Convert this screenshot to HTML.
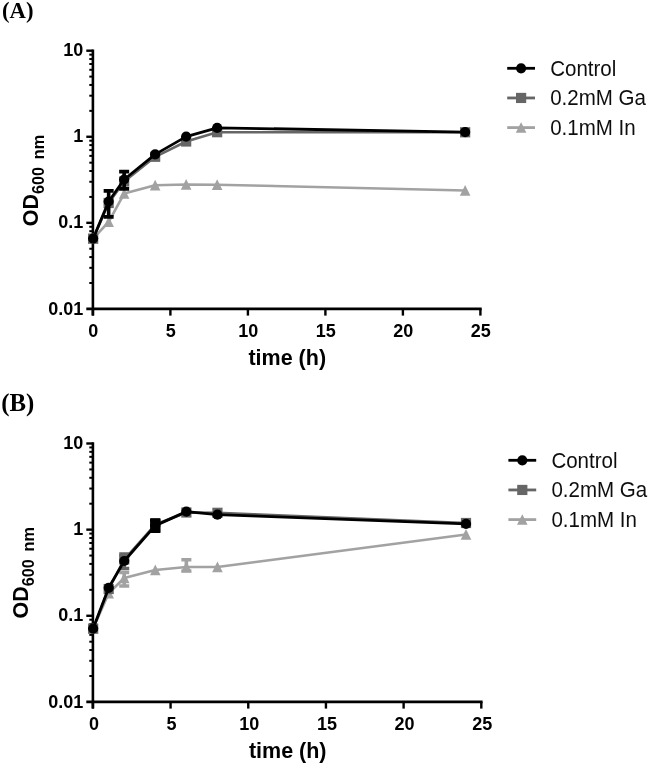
<!DOCTYPE html>
<html><head><meta charset="utf-8"><title>Growth curves</title>
<style>
html,body{margin:0;padding:0;background:#fff;}
body{width:649px;height:765px;overflow:hidden;}
svg{display:block;}
text{font-family:"Liberation Sans",sans-serif;fill:#000;}
.tk{font-weight:bold;font-size:18px;}
.ttl{font-weight:bold;font-size:21.5px;}
.sub{font-weight:bold;font-size:16.2px;}
.lg{font-size:21.6px;fill:#111;}
.pl{font-family:"Liberation Serif",serif;font-weight:bold;font-size:23.2px;}
</style></head><body>
<svg width="649" height="765" viewBox="0 0 649 765">
<defs><filter id="soft" x="0" y="0" width="100%" height="100%" filterUnits="userSpaceOnUse" primitiveUnits="userSpaceOnUse"><feGaussianBlur stdDeviation="0.45"/></filter></defs>
<rect width="649" height="765" fill="#fff"/>
<g filter="url(#soft)">
<line x1="92.9" y1="49.400000000000006" x2="92.9" y2="315.59999999999997" stroke="#000" stroke-width="2.6"/>
<line x1="86.30000000000001" y1="308.9" x2="481.7" y2="308.9" stroke="#000" stroke-width="2.6"/>
<line x1="86.30000000000001" y1="50.7" x2="92.9" y2="50.7" stroke="#000" stroke-width="2.4"/>
<line x1="89.30000000000001" y1="110.86" x2="92.9" y2="110.86" stroke="#000" stroke-width="2.0"/>
<line x1="89.30000000000001" y1="95.70" x2="92.9" y2="95.70" stroke="#000" stroke-width="2.0"/>
<line x1="89.30000000000001" y1="84.95" x2="92.9" y2="84.95" stroke="#000" stroke-width="2.0"/>
<line x1="89.30000000000001" y1="76.61" x2="92.9" y2="76.61" stroke="#000" stroke-width="2.0"/>
<line x1="89.30000000000001" y1="69.79" x2="92.9" y2="69.79" stroke="#000" stroke-width="2.0"/>
<line x1="89.30000000000001" y1="64.03" x2="92.9" y2="64.03" stroke="#000" stroke-width="2.0"/>
<line x1="89.30000000000001" y1="59.04" x2="92.9" y2="59.04" stroke="#000" stroke-width="2.0"/>
<line x1="89.30000000000001" y1="54.64" x2="92.9" y2="54.64" stroke="#000" stroke-width="2.0"/>
<line x1="86.30000000000001" y1="136.76666666666665" x2="92.9" y2="136.76666666666665" stroke="#000" stroke-width="2.4"/>
<line x1="89.30000000000001" y1="196.92" x2="92.9" y2="196.92" stroke="#000" stroke-width="2.0"/>
<line x1="89.30000000000001" y1="181.77" x2="92.9" y2="181.77" stroke="#000" stroke-width="2.0"/>
<line x1="89.30000000000001" y1="171.02" x2="92.9" y2="171.02" stroke="#000" stroke-width="2.0"/>
<line x1="89.30000000000001" y1="162.68" x2="92.9" y2="162.68" stroke="#000" stroke-width="2.0"/>
<line x1="89.30000000000001" y1="155.86" x2="92.9" y2="155.86" stroke="#000" stroke-width="2.0"/>
<line x1="89.30000000000001" y1="150.10" x2="92.9" y2="150.10" stroke="#000" stroke-width="2.0"/>
<line x1="89.30000000000001" y1="145.11" x2="92.9" y2="145.11" stroke="#000" stroke-width="2.0"/>
<line x1="89.30000000000001" y1="140.70" x2="92.9" y2="140.70" stroke="#000" stroke-width="2.0"/>
<line x1="86.30000000000001" y1="222.83333333333331" x2="92.9" y2="222.83333333333331" stroke="#000" stroke-width="2.4"/>
<line x1="89.30000000000001" y1="282.99" x2="92.9" y2="282.99" stroke="#000" stroke-width="2.0"/>
<line x1="89.30000000000001" y1="267.84" x2="92.9" y2="267.84" stroke="#000" stroke-width="2.0"/>
<line x1="89.30000000000001" y1="257.08" x2="92.9" y2="257.08" stroke="#000" stroke-width="2.0"/>
<line x1="89.30000000000001" y1="248.74" x2="92.9" y2="248.74" stroke="#000" stroke-width="2.0"/>
<line x1="89.30000000000001" y1="241.93" x2="92.9" y2="241.93" stroke="#000" stroke-width="2.0"/>
<line x1="89.30000000000001" y1="236.17" x2="92.9" y2="236.17" stroke="#000" stroke-width="2.0"/>
<line x1="89.30000000000001" y1="231.17" x2="92.9" y2="231.17" stroke="#000" stroke-width="2.0"/>
<line x1="89.30000000000001" y1="226.77" x2="92.9" y2="226.77" stroke="#000" stroke-width="2.0"/>
<text x="83.30000000000001" y="56.30" text-anchor="end" class="tk">10</text>
<text x="83.30000000000001" y="142.37" text-anchor="end" class="tk">1</text>
<text x="83.30000000000001" y="228.43" text-anchor="end" class="tk">0.1</text>
<text x="83.30000000000001" y="314.50" text-anchor="end" class="tk">0.01</text>
<line x1="92.90" y1="308.9" x2="92.90" y2="315.59999999999997" stroke="#000" stroke-width="2.4"/>
<text x="93.30" y="337.40" text-anchor="middle" class="tk">0</text>
<line x1="170.40" y1="308.9" x2="170.40" y2="315.59999999999997" stroke="#000" stroke-width="2.4"/>
<text x="170.80" y="337.40" text-anchor="middle" class="tk">5</text>
<line x1="247.90" y1="308.9" x2="247.90" y2="315.59999999999997" stroke="#000" stroke-width="2.4"/>
<text x="248.30" y="337.40" text-anchor="middle" class="tk">10</text>
<line x1="325.40" y1="308.9" x2="325.40" y2="315.59999999999997" stroke="#000" stroke-width="2.4"/>
<text x="325.80" y="337.40" text-anchor="middle" class="tk">15</text>
<line x1="402.90" y1="308.9" x2="402.90" y2="315.59999999999997" stroke="#000" stroke-width="2.4"/>
<text x="403.30" y="337.40" text-anchor="middle" class="tk">20</text>
<line x1="480.40" y1="308.9" x2="480.40" y2="315.59999999999997" stroke="#000" stroke-width="2.4"/>
<text x="480.80" y="337.40" text-anchor="middle" class="tk">25</text>
<text x="287.25" y="364.90" text-anchor="middle" class="ttl">time (h)</text>
<g transform="translate(38.1 226.20) rotate(-90)"><text class="ttl" x="0" y="0">OD<tspan class="sub" dy="6.1">600</tspan><tspan class="sub" dx="3.2"> nm</tspan></text></g>
<polyline points="93.15,238.60 108.65,221.80 124.15,193.60 155.15,185.20 186.15,184.50 217.15,184.70 465.15,190.50" fill="none" stroke="#a2a2a2" stroke-width="2.6" stroke-linejoin="round"/>
<path d="M93.15 233.20L98.45 243.80H87.85Z" fill="#a2a2a2"/>
<path d="M108.65 216.40L113.95 227.00H103.35Z" fill="#a2a2a2"/>
<path d="M124.15 188.20L129.45 198.80H118.85Z" fill="#a2a2a2"/>
<path d="M155.15 179.80L160.45 190.40H149.85Z" fill="#a2a2a2"/>
<path d="M186.15 179.10L191.45 189.70H180.85Z" fill="#a2a2a2"/>
<path d="M217.15 179.30L222.45 189.90H211.85Z" fill="#a2a2a2"/>
<path d="M465.15 185.10L470.45 195.70H459.85Z" fill="#a2a2a2"/>
<polyline points="93.15,238.60 108.65,203.00 124.15,181.50 155.15,156.80 186.15,141.50 217.15,132.20 465.15,132.30" fill="none" stroke="#666" stroke-width="2.6" stroke-linejoin="round"/>
<rect x="88.05" y="233.50" width="10.2" height="10.2" fill="#666"/>
<rect x="103.55" y="197.90" width="10.2" height="10.2" fill="#666"/>
<rect x="119.05" y="176.40" width="10.2" height="10.2" fill="#666"/>
<rect x="150.05" y="151.70" width="10.2" height="10.2" fill="#666"/>
<rect x="181.05" y="136.40" width="10.2" height="10.2" fill="#666"/>
<rect x="212.05" y="127.10" width="10.2" height="10.2" fill="#666"/>
<rect x="460.05" y="127.20" width="10.2" height="10.2" fill="#666"/>
<polyline points="93.15,238.60 108.65,201.50 124.15,179.50 155.15,154.40 186.15,136.60 217.15,127.80 465.15,132.10" fill="none" stroke="#000" stroke-width="2.8" stroke-linejoin="round"/>
<path d="M108.65 190.90V216.90M103.65 190.90h10M103.65 216.90h10" stroke="#000" stroke-width="3.6" fill="none"/>
<path d="M124.15 171.60V188.90M119.15 171.60h10M119.15 188.90h10" stroke="#000" stroke-width="3.6" fill="none"/>
<circle cx="93.15" cy="238.60" r="5.1" fill="#000"/>
<circle cx="108.65" cy="201.50" r="5.1" fill="#000"/>
<circle cx="124.15" cy="179.50" r="5.1" fill="#000"/>
<circle cx="155.15" cy="154.40" r="5.1" fill="#000"/>
<circle cx="186.15" cy="136.60" r="5.1" fill="#000"/>
<circle cx="217.15" cy="127.80" r="5.1" fill="#000"/>
<circle cx="465.15" cy="132.10" r="5.1" fill="#000"/>
<line x1="507.20" y1="68.30" x2="535.00" y2="68.30" stroke="#000" stroke-width="2.8"/>
<circle cx="521.10" cy="68.30" r="5.1" fill="#000"/>
<text transform="translate(550.20 75.60) scale(0.95 1.04)" class="lg">Control</text>
<line x1="507.20" y1="97.95" x2="535.00" y2="97.95" stroke="#666" stroke-width="2.8"/>
<rect x="516.00" y="92.85" width="10.2" height="10.2" fill="#666"/>
<text transform="translate(550.20 105.25) scale(0.95 1.04)" class="lg">0.2mM Ga</text>
<line x1="507.20" y1="127.60" x2="535.00" y2="127.60" stroke="#a2a2a2" stroke-width="2.8"/>
<path d="M521.10 122.20L526.40 132.80H515.80Z" fill="#a2a2a2"/>
<text transform="translate(550.20 134.90) scale(0.95 1.04)" class="lg">0.1mM In</text>
<text transform="translate(2.0 18.3) scale(0.98 1.0)" class="pl">(A)</text>
<line x1="92.9" y1="442.2" x2="92.9" y2="708.6" stroke="#000" stroke-width="2.6"/>
<line x1="86.30000000000001" y1="701.9" x2="482.59999999999997" y2="701.9" stroke="#000" stroke-width="2.6"/>
<line x1="86.30000000000001" y1="443.5" x2="92.9" y2="443.5" stroke="#000" stroke-width="2.4"/>
<line x1="89.30000000000001" y1="503.70" x2="92.9" y2="503.70" stroke="#000" stroke-width="2.0"/>
<line x1="89.30000000000001" y1="488.54" x2="92.9" y2="488.54" stroke="#000" stroke-width="2.0"/>
<line x1="89.30000000000001" y1="477.78" x2="92.9" y2="477.78" stroke="#000" stroke-width="2.0"/>
<line x1="89.30000000000001" y1="469.43" x2="92.9" y2="469.43" stroke="#000" stroke-width="2.0"/>
<line x1="89.30000000000001" y1="462.61" x2="92.9" y2="462.61" stroke="#000" stroke-width="2.0"/>
<line x1="89.30000000000001" y1="456.84" x2="92.9" y2="456.84" stroke="#000" stroke-width="2.0"/>
<line x1="89.30000000000001" y1="451.85" x2="92.9" y2="451.85" stroke="#000" stroke-width="2.0"/>
<line x1="89.30000000000001" y1="447.44" x2="92.9" y2="447.44" stroke="#000" stroke-width="2.0"/>
<line x1="86.30000000000001" y1="529.6333333333333" x2="92.9" y2="529.6333333333333" stroke="#000" stroke-width="2.4"/>
<line x1="89.30000000000001" y1="589.84" x2="92.9" y2="589.84" stroke="#000" stroke-width="2.0"/>
<line x1="89.30000000000001" y1="574.67" x2="92.9" y2="574.67" stroke="#000" stroke-width="2.0"/>
<line x1="89.30000000000001" y1="563.91" x2="92.9" y2="563.91" stroke="#000" stroke-width="2.0"/>
<line x1="89.30000000000001" y1="555.56" x2="92.9" y2="555.56" stroke="#000" stroke-width="2.0"/>
<line x1="89.30000000000001" y1="548.74" x2="92.9" y2="548.74" stroke="#000" stroke-width="2.0"/>
<line x1="89.30000000000001" y1="542.98" x2="92.9" y2="542.98" stroke="#000" stroke-width="2.0"/>
<line x1="89.30000000000001" y1="537.98" x2="92.9" y2="537.98" stroke="#000" stroke-width="2.0"/>
<line x1="89.30000000000001" y1="533.57" x2="92.9" y2="533.57" stroke="#000" stroke-width="2.0"/>
<line x1="86.30000000000001" y1="615.7666666666667" x2="92.9" y2="615.7666666666667" stroke="#000" stroke-width="2.4"/>
<line x1="89.30000000000001" y1="675.97" x2="92.9" y2="675.97" stroke="#000" stroke-width="2.0"/>
<line x1="89.30000000000001" y1="660.80" x2="92.9" y2="660.80" stroke="#000" stroke-width="2.0"/>
<line x1="89.30000000000001" y1="650.04" x2="92.9" y2="650.04" stroke="#000" stroke-width="2.0"/>
<line x1="89.30000000000001" y1="641.70" x2="92.9" y2="641.70" stroke="#000" stroke-width="2.0"/>
<line x1="89.30000000000001" y1="634.88" x2="92.9" y2="634.88" stroke="#000" stroke-width="2.0"/>
<line x1="89.30000000000001" y1="629.11" x2="92.9" y2="629.11" stroke="#000" stroke-width="2.0"/>
<line x1="89.30000000000001" y1="624.11" x2="92.9" y2="624.11" stroke="#000" stroke-width="2.0"/>
<line x1="89.30000000000001" y1="619.71" x2="92.9" y2="619.71" stroke="#000" stroke-width="2.0"/>
<text x="83.30000000000001" y="449.10" text-anchor="end" class="tk">10</text>
<text x="83.30000000000001" y="535.23" text-anchor="end" class="tk">1</text>
<text x="83.30000000000001" y="621.37" text-anchor="end" class="tk">0.1</text>
<text x="83.30000000000001" y="707.50" text-anchor="end" class="tk">0.01</text>
<line x1="92.90" y1="701.9" x2="92.90" y2="708.6" stroke="#000" stroke-width="2.4"/>
<text x="93.90" y="730.40" text-anchor="middle" class="tk">0</text>
<line x1="170.58" y1="701.9" x2="170.58" y2="708.6" stroke="#000" stroke-width="2.4"/>
<text x="171.58" y="730.40" text-anchor="middle" class="tk">5</text>
<line x1="248.26" y1="701.9" x2="248.26" y2="708.6" stroke="#000" stroke-width="2.4"/>
<text x="249.26" y="730.40" text-anchor="middle" class="tk">10</text>
<line x1="325.94" y1="701.9" x2="325.94" y2="708.6" stroke="#000" stroke-width="2.4"/>
<text x="326.94" y="730.40" text-anchor="middle" class="tk">15</text>
<line x1="403.62" y1="701.9" x2="403.62" y2="708.6" stroke="#000" stroke-width="2.4"/>
<text x="404.62" y="730.40" text-anchor="middle" class="tk">20</text>
<line x1="481.30" y1="701.9" x2="481.30" y2="708.6" stroke="#000" stroke-width="2.4"/>
<text x="482.30" y="730.40" text-anchor="middle" class="tk">25</text>
<text x="287.70" y="757.90" text-anchor="middle" class="ttl">time (h)</text>
<g transform="translate(27.9 618.40) rotate(-90)"><text class="ttl" x="0" y="0">OD<tspan class="sub" dy="6.1">600</tspan><tspan class="sub" dx="3.2"> nm</tspan></text></g>
<polyline points="93.15,628.60 108.69,593.30 124.22,578.00 155.29,570.00 186.37,567.00 217.44,567.00 466.01,534.50" fill="none" stroke="#a2a2a2" stroke-width="2.6" stroke-linejoin="round"/>
<path d="M124.22 572.50V586.00M119.22 572.50h10M119.22 586.00h10" stroke="#a2a2a2" stroke-width="3.6" fill="none"/>
<path d="M186.37 559.80V571.00M181.37 559.80h10M181.37 571.00h10" stroke="#a2a2a2" stroke-width="3.6" fill="none"/>
<path d="M93.15 623.20L98.45 633.80H87.85Z" fill="#a2a2a2"/>
<path d="M108.69 587.90L113.99 598.50H103.39Z" fill="#a2a2a2"/>
<path d="M124.22 572.60L129.52 583.20H118.92Z" fill="#a2a2a2"/>
<path d="M155.29 564.60L160.59 575.20H149.99Z" fill="#a2a2a2"/>
<path d="M186.37 561.60L191.67 572.20H181.07Z" fill="#a2a2a2"/>
<path d="M217.44 561.60L222.74 572.20H212.14Z" fill="#a2a2a2"/>
<path d="M466.01 529.10L471.31 539.70H460.71Z" fill="#a2a2a2"/>
<polyline points="93.15,628.60 108.69,589.00 124.22,559.50 155.29,524.50 186.37,512.50 217.44,512.80 466.01,523.00" fill="none" stroke="#666" stroke-width="2.6" stroke-linejoin="round"/>
<path d="M124.22 554.00V568.50M119.22 554.00h10M119.22 568.50h10" stroke="#666" stroke-width="3.6" fill="none"/>
<rect x="88.05" y="623.50" width="10.2" height="10.2" fill="#666"/>
<rect x="103.59" y="583.90" width="10.2" height="10.2" fill="#666"/>
<rect x="119.12" y="554.40" width="10.2" height="10.2" fill="#666"/>
<rect x="150.19" y="519.40" width="10.2" height="10.2" fill="#666"/>
<rect x="181.27" y="507.40" width="10.2" height="10.2" fill="#666"/>
<rect x="212.34" y="507.70" width="10.2" height="10.2" fill="#666"/>
<rect x="460.91" y="517.90" width="10.2" height="10.2" fill="#666"/>
<polyline points="93.15,628.60 108.69,587.80 124.22,561.00 155.29,525.60 186.37,511.60 217.44,514.70 466.01,523.90" fill="none" stroke="#000" stroke-width="2.8" stroke-linejoin="round"/>
<path d="M155.29 520.10V531.10M150.29 520.10h10M150.29 531.10h10" stroke="#000" stroke-width="3.6" fill="none"/>
<circle cx="93.15" cy="628.60" r="5.1" fill="#000"/>
<circle cx="108.69" cy="587.80" r="5.1" fill="#000"/>
<circle cx="124.22" cy="561.00" r="5.1" fill="#000"/>
<circle cx="155.29" cy="525.60" r="5.1" fill="#000"/>
<circle cx="186.37" cy="511.60" r="5.1" fill="#000"/>
<circle cx="217.44" cy="514.70" r="5.1" fill="#000"/>
<circle cx="466.01" cy="523.90" r="5.1" fill="#000"/>
<rect x="150.19" y="518.60" width="10.2" height="14.00" fill="#000"/>
<line x1="508.40" y1="460.30" x2="536.20" y2="460.30" stroke="#000" stroke-width="2.8"/>
<circle cx="522.30" cy="460.30" r="5.1" fill="#000"/>
<text transform="translate(551.40 467.60) scale(0.95 1.04)" class="lg">Control</text>
<line x1="508.40" y1="489.95" x2="536.20" y2="489.95" stroke="#666" stroke-width="2.8"/>
<rect x="517.20" y="484.85" width="10.2" height="10.2" fill="#666"/>
<text transform="translate(551.40 497.25) scale(0.95 1.04)" class="lg">0.2mM Ga</text>
<line x1="508.40" y1="519.60" x2="536.20" y2="519.60" stroke="#a2a2a2" stroke-width="2.8"/>
<path d="M522.30 514.20L527.60 524.80H517.00Z" fill="#a2a2a2"/>
<text transform="translate(551.40 526.90) scale(0.95 1.04)" class="lg">0.1mM In</text>
<text transform="translate(1.2 411.2) scale(1.07 1.10)" class="pl">(B)</text>
</g>
</svg>
</body></html>
